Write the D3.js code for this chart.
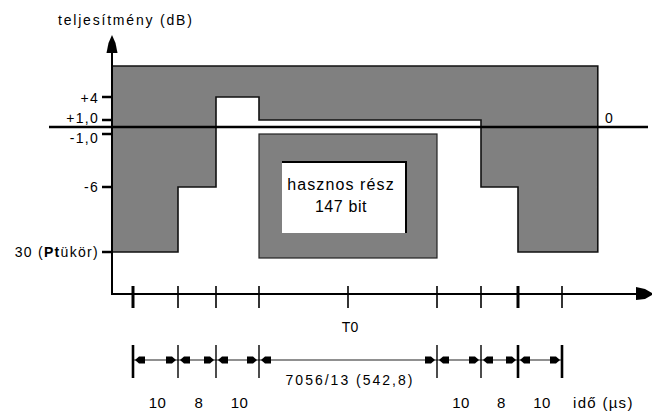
<!DOCTYPE html>
<html><head><meta charset="utf-8">
<script src="https://cdn.jsdelivr.net/npm/d3@7"></script>
<style>
html,body{margin:0;padding:0;background:#fff;}
svg{display:block;}
text{font-family:"Liberation Sans",Arial,sans-serif;fill:#000;}
</style></head>
<body><div id="chart"></div>
<script>
// ---- data ----
const yTitle = "teljesítmény (dB)";
const xTitle = "idő (µs)";
const levelLabels = ["+4", "+1,0", "-1,0", "-6", "30 (Ptükör)"];
const levelValues = [4, 1, -1, -6, -30];
const zeroLabel = "0";
const segDurations = [10, 8, 10, 542.8, 10, 8, 10];
const segLabels = ["10", "8", "10", "7056/13  (542,8)", "10", "8", "10"];
const centerTickLabel = "T0";
const usefulText = ["hasznos rész", "147 bit"];
// upper (gray) mask outline: time (µs) and level (dB)
const maskTimes  = ["start", "end", "end", 588.8, 588.8, 580.8, 580.8, 28, 28, 18, 18, 10, 10, "start"];
const maskLevels = [7, 7, -30, -30, -6, -6, 1, 1, 4, 4, -6, -6, -30, -30];
// lower mask block under the useful part
const lowerBlock = {t0: 28, t1: 570.8, top: -1, bottom: -31};

// ---- layout ----
const W = 654, H = 413;
const svg = d3.select("#chart").append("svg").attr("width", W).attr("height", H);

const bounds = [0];
segDurations.forEach(d => bounds.push(+(bounds[bounds.length-1] + d).toFixed(1)));
// schematic (piecewise) time scale
const x = d3.scaleLinear()
  .domain([-4.7, ...bounds, 617])
  .range([112, 133, 178, 216, 259, 437, 481, 518, 562, 650]);
const tStart = -4.7, tEnd = 606.2;
// schematic (piecewise) level scale
const y = d3.scaleLinear()
  .domain([10, 4, 1, 0, -1, -6, -30, -37])
  .range([35, 97, 120, 127, 134, 187, 252, 294]);

const tv = t => t === "start" ? tStart : (t === "end" ? tEnd : t);
const gray = "#808080";

// upper gray mask
const pts = maskTimes.map((t, i) => [x(tv(t)), y(maskLevels[i])]);
svg.append("path")
  .attr("d", d3.line()(pts) + "Z")
  .attr("fill", gray).attr("stroke", "#111").attr("stroke-width", 1.6);

// lower block
const bx0 = x(lowerBlock.t0), bx1 = x(lowerBlock.t1), by0 = y(lowerBlock.top), by1 = y(lowerBlock.bottom);
svg.append("rect").attr("x", bx0).attr("y", by0).attr("width", bx1 - bx0).attr("height", by1 - by0)
  .attr("fill", gray).attr("stroke", "#222").attr("stroke-width", 1.2);
// inner white "useful part" box
const ix0 = bx0 + 23, ix1 = bx1 - 31, iy0 = by0 + 28, iy1 = by1 - 25;
svg.append("rect").attr("x", ix0).attr("y", iy0).attr("width", ix1 - ix0).attr("height", iy1 - iy0).attr("fill", "#fff");
svg.append("path").attr("d", `M${ix0},${iy0}H${ix1}V${iy1}`).attr("fill", "none").attr("stroke", "#000").attr("stroke-width", 2);
const cx = (bx0 + bx1) / 2 - 7;
svg.append("text").attr("x", cx).attr("y", 190).attr("text-anchor", "middle")
  .style("font-size", "16px").style("letter-spacing", "1.1px").text(usefulText[0]);
svg.append("text").attr("x", cx).attr("y", 212).attr("text-anchor", "middle")
  .style("font-size", "16px").style("letter-spacing", "0.6px").text(usefulText[1]);

// zero reference line
svg.append("line").attr("x1", 49).attr("x2", 648).attr("y1", y(0)).attr("y2", y(0))
  .attr("stroke", "#000").attr("stroke-width", 2.6);
svg.append("text").attr("x", 605).attr("y", 123).style("font-size", "14px").text(zeroLabel);

// y axis
svg.append("line").attr("x1", x(tStart)).attr("x2", x(tStart)).attr("y1", 50).attr("y2", y(-37) + 1)
  .attr("stroke", "#000").attr("stroke-width", 2);
svg.append("path").attr("d", "M112,35 L115.5,43 L117.5,53 L106.5,53 L108.5,43 Z").attr("fill", "#000");
svg.append("text").attr("x", 58).attr("y", 25).style("font-size", "14px").style("letter-spacing", "1.8px").text(yTitle);

// level ticks & labels
levelValues.forEach((v, i) => {
  const yy = y(v);
  svg.append("line").attr("x1", 102).attr("x2", 112).attr("y1", yy).attr("y2", yy)
    .attr("stroke", "#000").attr("stroke-width", 2.5);
  const dy = v === 1 ? 3 : (v === -1 ? 9 : (v === 4 ? 6 : 5));
  const t = svg.append("text").attr("x", 99).attr("y", yy + dy).attr("text-anchor", "end")
    .style("font-size", "14px").style("letter-spacing", "1.3px");
  const lab = levelLabels[i];
  const m = lab.match(/^(.*\()Pt(.*)$/);
  if (m) {
    t.append("tspan").text(m[1]);
    t.append("tspan").style("font-weight", "bold").text("Pt");
    t.append("tspan").text(m[2]);
  } else t.text(lab);
});

// x axis
const axY = y(-37);
svg.append("line").attr("x1", 111).attr("x2", 640).attr("y1", axY).attr("y2", axY)
  .attr("stroke", "#000").attr("stroke-width", 2.2);
svg.append("path").attr("d", `M636,${axY-7} L645,${axY-5} L652,${axY-1} L652,${axY+1} L645,${axY+5} L636,${axY+6} Z`).attr("fill", "#000");
const tickTimes = bounds.slice(0, 4).concat([(bounds[3] + bounds[4]) / 2], bounds.slice(4));
tickTimes.forEach(t => {
  const isThick = t === bounds[0] || t === bounds[6];
  svg.append("line").attr("x1", x(t)).attr("x2", x(t)).attr("y1", axY - 8).attr("y2", axY + 14)
    .attr("stroke", "#000").attr("stroke-width", isThick ? 3 : 1.6);
});
svg.append("text").attr("x", x((bounds[3] + bounds[4]) / 2) + 2).attr("y", 332).attr("text-anchor", "middle")
  .style("font-size", "14px").text(centerTickLabel);

// dimension line
const dimY = 360;
svg.append("line").attr("x1", x(bounds[0])).attr("x2", x(bounds[bounds.length-1])).attr("y1", dimY).attr("y2", dimY)
  .attr("stroke", "#222").attr("stroke-width", 1.2);
bounds.forEach((t, i) => {
  const isThick = i === 0 || i === bounds.length - 1 || i === 6;
  svg.append("line").attr("x1", x(t)).attr("x2", x(t)).attr("y1", 345).attr("y2", 378)
    .attr("stroke", "#000").attr("stroke-width", isThick ? 2.6 : 1.4);
});
function arrowHead(px, dir) {
  const a = px + dir * 2, b = px + dir * 6, c = px + dir * 12;
  return `M${a},${dimY} L${b},${dimY-3.5} L${c},${dimY-3.5} L${c},${dimY+3.5} L${b},${dimY+3.5} Z`;
}
segDurations.forEach((d, i) => {
  const a = x(bounds[i]), b = x(bounds[i+1]);
  svg.append("path").attr("d", arrowHead(a, 1)).attr("fill", "#000");
  svg.append("path").attr("d", arrowHead(b, -1)).attr("fill", "#000");
  const mid = (a + b) / 2;
  const isLong = d > 100;
  svg.append("text").attr("x", mid + 2).attr("y", isLong ? 385 : 408).attr("text-anchor", "middle")
    .style("font-size", isLong ? "14px" : "15px").style("letter-spacing", isLong ? "2px" : "0.5px").text(segLabels[i]);
});
svg.append("text").attr("x", 573).attr("y", 408).style("font-size", "15px").style("letter-spacing", "1.3px").text(xTitle);
</script></body></html>
